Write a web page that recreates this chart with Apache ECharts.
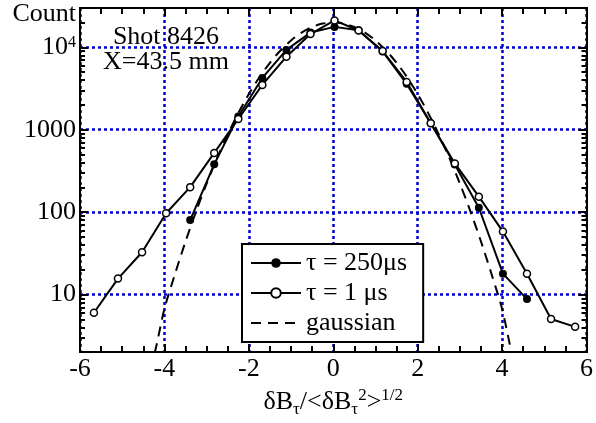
<!DOCTYPE html>
<html>
<head>
<meta charset="utf-8">
<script src="https://cdn.jsdelivr.net/npm/echarts@6/dist/echarts.min.js"></script>
<style>
  html, body { margin: 0; padding: 0; background: #fff; }
  #chart { width: 596px; height: 423px; }
</style>
</head>
<body>
<div id="chart"></div>
<script>
  // bin centres (normalised fluctuation)
  var binX = [-5.67, -5.10, -4.53, -3.96, -3.39, -2.82, -2.25, -1.68, -1.11, -0.54, 0.03,
              0.60, 1.17, 1.74, 2.31, 2.88, 3.45, 4.02, 4.59, 5.16, 5.73];
  // tau = 250 us (filled dots)
  var count250 = [null, null, null, null, 80, 380, 1450, 4250, 9300, 15100, 17700,
                  16100, 8900, 3600, 1200, 379, 113, 17.9, 8.8, null, null];
  // tau = 1 us (open dots)
  var count1 = [6, 15.6, 32.6, 97, 201, 523, 1350, 3500, 7700, 14500, 21200,
                16000, 9000, 3800, 1200, 390, 154, 58, 17.9, 5.05, 4.05];
  // gaussian reference curve
  var gaussX = [-4.5, -4.25, -4, -3.75, -3.5, -3.25, -3, -2.75, -2.5, -2.25, -2, -1.75, -1.5, -1.25, -1, -0.75, -0.5, -0.25, 0,
                0.25, 0.5, 0.75, 1, 1.25, 1.5, 1.75, 2, 2.25, 2.5, 2.75, 3, 3.25, 3.5, 3.75, 4, 4.25, 4.5];
  var gaussY = [0.8, 1.8, 6.7, 17.7, 44, 102, 222, 456, 879, 1590, 2710, 4330, 6490, 9160, 12100, 15100, 17650, 19400, 20000,
                19400, 17650, 15100, 12100, 9160, 6490, 4330, 2710, 1590, 879, 456, 222, 102, 44, 17.7, 6.7, 1.8, 0.8];
  // log tick positions
  var minorY = [3, 4, 5, 6, 7, 8, 9, 20, 30, 40, 50, 60, 70, 80, 90, 200, 300, 400, 500, 600, 700, 800, 900,
                2000, 3000, 4000, 5000, 6000, 7000, 8000, 9000, 20000, 30000];
  var majorY = [10, 100, 1000, 10000];

  function pairs(xs, ys) {
    var out = [];
    for (var i = 0; i < xs.length; i++) {
      if (ys[i] != null) out.push([xs[i], ys[i]]);
    }
    return out;
  }

  var font = 'Liberation Serif';
  var gridBlue = '#0000d0';

  function yFormat(v) {
    var p = Math.round(Math.log(v) / Math.LN10);
    if (Math.abs(Math.pow(10, p) - v) > 1e-6 * v) return '';
    if (p === 4) return '10{sup|4}';
    return String(Math.round(v));
  }

  function axLine() {
    return { show: true, onZero: false, lineStyle: { color: '#000', width: 2 } };
  }
  function tick(len, values) {
    var t = { show: true, inside: true, length: len, lineStyle: { color: '#000', width: 2 } };
    if (values) t.customValues = values;
    return t;
  }
  function minor() {
    return { show: true, splitNumber: 4, length: 6, lineStyle: { color: '#000', width: 2 } };
  }
  function dotted() {
    return { show: true, lineStyle: { color: gridBlue, width: 2.5, type: [3, 3] } };
  }
  function logAxis(pos, len, values) {
    return {
      type: 'log', logBase: 10, min: 2, max: 30000, position: pos,
      axisLine: axLine(), axisTick: tick(len, values),
      axisLabel: { show: false }, splitLine: { show: false }
    };
  }

  var mainY = logAxis('left', 8, majorY);
  mainY.name = 'Count';
  mainY.nameLocation = 'end';
  mainY.nameGap = -6;
  mainY.nameTextStyle = { fontFamily: font, fontSize: 26, color: '#000', align: 'right', verticalAlign: 'middle', padding: [0, 4, 0, 0] };
  mainY.axisLabel = {
    show: true, fontFamily: font, fontSize: 26, color: '#000', margin: 4,
    formatter: yFormat,
    rich: { sup: { fontFamily: font, fontSize: 16, color: '#000', verticalAlign: 'top', padding: [0, 0, 10, 0] } }
  };
  mainY.splitLine = dotted();

  var option = {
    animation: false,
    grid: { left: 80, right: 9, top: 8, bottom: 66 },
    title: {
      text: 'Shot 8426\nX=43.5 mm',
      left: 161, top: 20, textAlign: 'center',
      textStyle: { fontFamily: font, fontSize: 26, fontWeight: 'normal', lineHeight: 25, color: '#000' }
    },
    legend: {
      left: 242, top: 244, orient: 'vertical',
      backgroundColor: '#fff', borderColor: '#000', borderWidth: 2,
      padding: [4, 16, 4, 8], itemGap: 0, itemWidth: 50, itemHeight: 12,
      textStyle: { fontFamily: font, fontSize: 26, color: '#000', lineHeight: 30 },
      data: ['τ = 250μs', 'τ = 1 μs', { name: 'gaussian', itemStyle: { opacity: 0 } }]
    },
    xAxis: [{
      type: 'value', min: -6, max: 6, interval: 2,
      name: 'δB{sub|τ}/<δB{sub|τ}{sup|2}>{sup|1/2}',
      nameLocation: 'middle', nameGap: 32,
      nameTextStyle: {
        fontFamily: font, fontSize: 26, color: '#000',
        rich: {
          sub: { fontFamily: font, fontSize: 17, color: '#000', verticalAlign: 'bottom', padding: [14, 0, 0, 0] },
          sup: { fontFamily: font, fontSize: 17, color: '#000', verticalAlign: 'top', padding: [0, 0, 12, 0] }
        }
      },
      axisLine: axLine(),
      axisTick: tick(8),
      minorTick: minor(),
      axisLabel: { fontFamily: font, fontSize: 26, color: '#000', margin: 4 },
      splitLine: dotted()
    }, {
      type: 'value', min: -6, max: 6, interval: 2, position: 'top',
      axisLine: axLine(),
      axisTick: tick(8),
      minorTick: minor(),
      axisLabel: { show: false },
      splitLine: { show: false }
    }],
    yAxis: [mainY, logAxis('left', 5, minorY), logAxis('right', 8, majorY), logAxis('right', 5, minorY)],
    series: [{
      name: 'τ = 250μs', type: 'line',
      data: pairs(binX, count250),
      symbol: 'circle', symbolSize: 8,
      itemStyle: { color: '#000' },
      lineStyle: { color: '#000', width: 2 }
    }, {
      name: 'τ = 1 μs', type: 'line',
      data: pairs(binX, count1),
      symbol: 'circle', symbolSize: 7,
      itemStyle: { color: '#fff', borderColor: '#000', borderWidth: 1.5 },
      lineStyle: { color: '#000', width: 2 }
    }, {
      name: 'gaussian', type: 'line',
      data: pairs(gaussX, gaussY),
      symbol: 'none', smooth: 0.3,
      itemStyle: { color: '#000' },
      lineStyle: { color: '#000', width: 2, type: [10, 7] }
    }]
  };

  var chart = echarts.init(document.getElementById('chart'));
  chart.setOption(option);
</script>
</body>
</html>
